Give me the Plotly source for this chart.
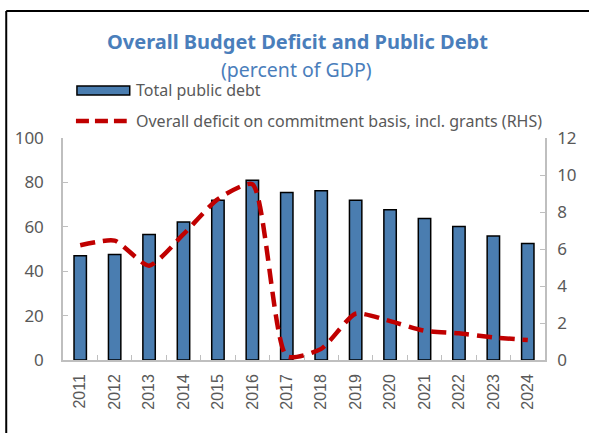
import plotly.graph_objects as go

years = [str(y) for y in range(2011, 2025)]
public_debt = [47, 47.5, 56.5, 62.2, 72, 81, 75.5, 76.2, 72, 67.7, 63.7, 60.1, 55.9, 52.5]
deficit = [6.2, 6.45, 5.1, 6.8, 8.7, 9.5, 0.2, 0.6, 2.5, 2.1, 1.58, 1.44, 1.22, 1.08]

W, H = 589, 433
L, R, T, B = 63, 42, 138, 73
pw, ph = W - L - R, H - T - B

def px(x):
    return (x - L) / pw

def py(y):
    return (H - B - y) / ph

blue = "#4A7DB0"
red = "#C00000"
gray = "#595959"
axcol = "#BFBFBF"
font = "Noto Sans"

fig = go.Figure()
fig.add_trace(go.Bar(x=years, y=public_debt, name="Total public debt",
                     marker=dict(color=blue, line=dict(color="black", width=1.5)),
                     width=0.36, showlegend=False))
fig.add_trace(go.Scatter(x=years, y=deficit, yaxis="y2", mode="lines",
                         name="Overall deficit on commitment basis, incl. grants (RHS)",
                         line=dict(color=red, width=4.5, dash="15px,8px", shape="spline", smoothing=0.6),
                         showlegend=False))

fig.update_layout(
    width=W, height=H,
    margin=dict(l=L, r=R, t=T, b=B),
    paper_bgcolor="white", plot_bgcolor="white",
    font=dict(family=font, color=gray),
    xaxis=dict(type="category", showline=True, linecolor=axcol, linewidth=1.5,
               ticks="inside", tickson="boundaries", ticklen=5, tickcolor=axcol,
               tickangle=-90, tickfont=dict(family="Liberation Sans", size=16, color=gray),
               ticklabelstandoff=6, showgrid=False),
    yaxis=dict(range=[0, 100], dtick=20, showline=True, linecolor=axcol, linewidth=1.5,
               ticks="inside", ticklen=5, tickcolor=axcol, showgrid=False, zeroline=False,
               ticklabelstandoff=14, tickfont=dict(size=17, color=gray)),
    yaxis2=dict(range=[0, 12], dtick=2, overlaying="y", side="right", showline=True,
                linecolor=axcol, linewidth=1.5, ticks="inside", ticklen=5, tickcolor=axcol,
                showgrid=False, zeroline=False, ticklabelstandoff=7,
                tickfont=dict(size=17, color=gray)),
    bargap=0.6,
)

# frame (left and top edges only)
fig.add_shape(type="line", xref="paper", yref="paper",
              x0=px(6), x1=px(W + 5), y0=py(11), y1=py(11),
              line=dict(color="black", width=2))
fig.add_shape(type="line", xref="paper", yref="paper",
              x0=px(6), x1=px(6), y0=py(11), y1=py(H + 5),
              line=dict(color="black", width=2))

# titles
fig.add_annotation(text="<b>Overall Budget Deficit and Public Debt</b>", xref="paper", yref="paper",
                   x=px(298.5), y=py(41), showarrow=False, xanchor="center", yanchor="middle",
                   font=dict(family=font, size=20, color="#4A7EBB"))
fig.add_annotation(text="(percent of GDP)", xref="paper", yref="paper",
                   x=px(297), y=py(69), showarrow=False, xanchor="center", yanchor="middle",
                   font=dict(family=font, size=19.5, color="#4A7EBB"))

# legend
fig.add_shape(type="rect", xref="paper", yref="paper",
              x0=px(77), x1=px(130), y0=py(95), y1=py(86),
              line=dict(color="black", width=1.5), fillcolor=blue)
fig.add_annotation(text="Total public debt", xref="paper", yref="paper",
                   x=px(134), y=py(90), showarrow=False, xanchor="left", yanchor="middle",
                   font=dict(family=font, size=16, color=gray))
fig.add_shape(type="line", xref="paper", yref="paper",
              x0=px(76), x1=px(127), y0=py(121), y1=py(121),
              line=dict(color=red, width=4.5, dash="13px,6px"))
fig.add_annotation(text="Overall deficit on commitment basis, incl. grants (RHS)", xref="paper", yref="paper",
                   x=px(134), y=py(121), showarrow=False, xanchor="left", yanchor="middle",
                   font=dict(family=font, size=16, color=gray))

fig.write_html("out.html", config={"displayModeBar": False},
               post_script="document.documentElement.style.overflow='hidden';"
                           "document.documentElement.style.margin='0';"
                           "document.body.style.margin='0';document.body.style.overflow='hidden';")
